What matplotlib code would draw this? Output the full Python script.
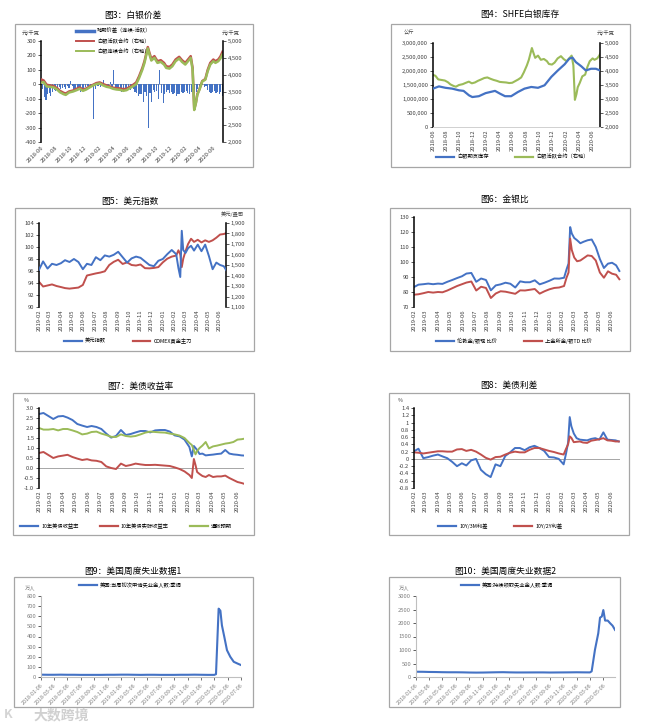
import matplotlib
matplotlib.use("Agg")
import matplotlib.pyplot as plt
import matplotlib.dates as mdates
from matplotlib.lines import Line2D
from matplotlib.patches import Rectangle
from matplotlib.ticker import FuncFormatter, MultipleLocator
import pandas as pd

plt.rcParams["font.family"] = ["Noto Sans CJK SC", "DejaVu Sans"]
plt.rcParams["axes.unicode_minus"] = False

BLUE = "#4472C4"
RED = "#C0504D"
GREEN = "#9BBB59"
GRAY = "#a6a6a6"
TXT = "#404040"

# ---------------- data ----------------
# Fig 3 / Fig 4: silver price (yuan/kg)
silver_dates = [
    "2018-06-01", "2018-06-12", "2018-06-25", "2018-07-10", "2018-07-25", "2018-08-08", "2018-08-20", "2018-09-05", "2018-09-14", "2018-09-28",
    "2018-10-15", "2018-10-30", "2018-11-12", "2018-11-26", "2018-12-10", "2018-12-24", "2019-01-08", "2019-01-22", "2019-02-05", "2019-02-20",
    "2019-03-06", "2019-03-20", "2019-04-03", "2019-04-17", "2019-05-02", "2019-05-16", "2019-05-30", "2019-06-13", "2019-06-27", "2019-07-10",
    "2019-07-22", "2019-08-05", "2019-08-14", "2019-08-28", "2019-09-04", "2019-09-12", "2019-09-25", "2019-10-08", "2019-10-22", "2019-11-05",
    "2019-11-14", "2019-11-28", "2019-12-10", "2019-12-24", "2020-01-08", "2020-01-20", "2020-02-03", "2020-02-17", "2020-02-26", "2020-03-05",
    "2020-03-12", "2020-03-19", "2020-03-25", "2020-04-03", "2020-04-15", "2020-04-28", "2020-05-08", "2020-05-19", "2020-06-01", "2020-06-10",
    "2020-06-22", "2020-07-01", "2020-07-10"]
silver_cont = [
    3760, 3780, 3650, 3640, 3620, 3560, 3480, 3420, 3400, 3470,
    3500, 3540, 3580, 3520, 3560, 3620, 3680, 3720, 3740, 3680,
    3640, 3620, 3580, 3560, 3550, 3520, 3540, 3600, 3660, 3720,
    3900, 4150, 4350, 4780, 4600, 4420, 4500, 4350, 4380, 4300,
    4200, 4180, 4250, 4400, 4480, 4380, 4300, 4420, 4500, 4150,
    2950, 3150, 3400, 3550, 3800, 3850, 4100, 4300, 4400, 4350,
    4400, 4480, 4600]
silver_active = [
    3860, 3830, 3700, 3680, 3660, 3600, 3520, 3460, 3440, 3500,
    3530, 3580, 3620, 3560, 3590, 3650, 3700, 3750, 3770, 3720,
    3680, 3650, 3610, 3600, 3590, 3570, 3580, 3640, 3700, 3770,
    3950, 4200, 4400, 4820, 4650, 4470, 4550, 4400, 4430, 4350,
    4250, 4230, 4300, 4450, 4530, 4430, 4350, 4470, 4550, 4200,
    2970, 3170, 3420, 3570, 3810, 3870, 4140, 4350, 4450, 4400,
    4450, 4540, 4680]
# weekly calendar spread (continuous - active), yuan/kg, from 2018-06-01
spread = [
    10, -30, -90, -110, -70, -60, -80, -50, -40, -45,
    -30, -20, -35, -25, -20, -30, -15, -25, 20, -10,
    -30, -40, -45, -35, -50, -30, -25, -20, -15, -30,
    -10, -20, -240, -30, -10, -15, -20, 10, 30, -10,
    -20, -25, 15, -30, 100, -30, -40, -35, -40, -50,
    -30, -45, -35, -30, -40, -25, -35, -50, -60, -80,
    -70, -65, -120, -50, -80, -300, -60, -120, -40, -50,
    -45, -100, 100, -60, -130, -70, -50, -40, -60, -55,
    -70, -60, -80, -70, -65, -50, -60, -55, -45, -60,
    -70, -50, -40, -60, -50, -30, -15, -10, -5, -20,
    -10, -40, -55, -60, -50, -45, -60, -55, -65, -50,
    -80]
inv_dates = [
    "2018-06-01", "2018-06-28", "2018-07-28", "2018-08-28", "2018-09-28", "2018-10-19", "2018-11-13", "2018-11-28", "2018-12-28", "2019-01-28",
    "2019-03-12", "2019-04-04", "2019-04-27", "2019-05-25", "2019-06-25", "2019-07-25", "2019-08-25", "2019-09-25", "2019-10-25", "2019-11-25",
    "2019-12-25", "2020-01-25", "2020-02-15", "2020-03-01", "2020-03-16", "2020-04-10", "2020-05-01", "2020-05-25", "2020-06-16", "2020-07-05"]
inventory = [
    1370000, 1450000, 1400000, 1370000, 1310000, 1290000, 1130000, 1070000, 1100000, 1210000,
    1290000, 1190000, 1100000, 1100000, 1250000, 1370000, 1430000, 1400000, 1490000, 1790000,
    2020000, 2240000, 2440000, 2480000, 2320000, 2170000, 2020000, 2080000, 2080000, 2020000]

# Fig 5 - Fig 8 share one date list
macro_dates = [
    "2019-02-01", "2019-02-12", "2019-02-24", "2019-03-08", "2019-03-20", "2019-04-01", "2019-04-12", "2019-04-24", "2019-05-06", "2019-05-18",
    "2019-05-30", "2019-06-10", "2019-06-22", "2019-07-04", "2019-07-16", "2019-07-28", "2019-08-09", "2019-08-21", "2019-09-02", "2019-09-14",
    "2019-09-26", "2019-10-08", "2019-10-20", "2019-11-01", "2019-11-13", "2019-11-25", "2019-12-07", "2019-12-19", "2019-12-31", "2020-01-12",
    "2020-01-24", "2020-02-05", "2020-02-11", "2020-02-16", "2020-02-20", "2020-02-24", "2020-03-01", "2020-03-08", "2020-03-16", "2020-03-24",
    "2020-04-03", "2020-04-13", "2020-04-23", "2020-05-03", "2020-05-13", "2020-05-23", "2020-06-02", "2020-06-12", "2020-06-20"]
dxy = [
    96.2, 97.6, 96.4, 97.2, 97.0, 97.3, 97.8, 97.5, 98.0, 97.5,
    96.3, 97.2, 97.0, 98.3, 97.8, 98.6, 98.4, 98.7, 99.2, 98.3,
    97.4, 98.1, 98.4, 98.2, 97.6, 97.0, 96.8, 97.7, 98.0, 98.8,
    99.5, 98.8, 96.5, 95.0, 102.7, 99.5, 99.0, 99.8, 100.2, 99.4,
    100.4, 99.3, 100.4, 98.5, 96.3, 97.4, 97.0, 96.8, 96.0]
comex_gold = [
    1340, 1295, 1305, 1315, 1300, 1290, 1280, 1275, 1280, 1285,
    1310, 1400, 1410, 1420, 1428, 1440, 1500, 1530, 1550, 1510,
    1525, 1500, 1495, 1505, 1470, 1468, 1472, 1480, 1525, 1560,
    1580, 1590, 1640, 1600, 1480, 1560, 1630, 1700, 1750, 1720,
    1740, 1715, 1735, 1720, 1735, 1760, 1790, 1795, 1805]
ratio_london = [
    83.3, 84.9, 85.2, 85.6, 85.2, 85.6, 85.4, 86.8, 88.0, 89.3,
    90.5, 92.3, 92.7, 86.8, 89.0, 88.0, 81.1, 84.4, 85.1, 86.2,
    85.5, 83.0, 87.1, 86.5, 86.5, 87.8, 85.1, 86.2, 87.5, 89.0,
    88.9, 89.5, 95.0, 99.0, 123.3, 119.0, 116.0, 114.5, 112.5, 113.5,
    114.5, 115.0, 110.0, 102.0, 96.0, 98.9, 99.5, 97.8, 94.0]
ratio_sge = [
    78.2, 78.5, 79.2, 80.0, 79.6, 80.0, 79.8, 81.0, 82.5, 84.0,
    85.2, 86.3, 87.0, 81.0, 83.5, 82.7, 76.0, 79.0, 80.5, 80.2,
    79.5, 78.8, 81.1, 81.0, 81.5, 82.0, 78.9, 80.5, 81.8, 82.7,
    83.0, 84.0, 89.5, 93.0, 115.6, 108.0, 103.0, 100.5, 101.0, 102.5,
    104.4, 104.0, 101.0, 93.0, 89.5, 93.8, 92.2, 91.5, 88.5]
ust10y = [
    2.70, 2.75, 2.60, 2.45, 2.58, 2.60, 2.52, 2.40, 2.20, 2.12,
    2.05, 2.10, 2.05, 1.95, 1.72, 1.52, 1.60, 1.90, 1.65, 1.70,
    1.78, 1.85, 1.85, 1.78, 1.88, 1.90, 1.90, 1.82, 1.63, 1.58,
    1.42, 1.05, 0.58, 1.10, 1.00, 0.90, 0.70, 0.72, 0.63, 0.65,
    0.67, 0.70, 0.72, 0.90, 0.72, 0.68, 0.66, 0.63, 0.62]
real10y = [
    0.75, 0.80, 0.65, 0.50, 0.58, 0.62, 0.66, 0.55, 0.47, 0.40,
    0.44, 0.38, 0.36, 0.30, 0.08, 0.00, -0.05, 0.22, 0.10, 0.15,
    0.22, 0.18, 0.15, 0.15, 0.16, 0.14, 0.12, 0.10, 0.03, -0.05,
    -0.17, -0.35, -0.50, 0.45, 0.15, -0.20, -0.30, -0.40, -0.45, -0.35,
    -0.45, -0.42, -0.42, -0.38, -0.50, -0.60, -0.70, -0.75, -0.80]
breakeven = [
    2.00, 1.92, 1.92, 1.95, 1.88, 1.95, 1.95, 1.88, 1.80, 1.68,
    1.72, 1.80, 1.82, 1.72, 1.65, 1.56, 1.55, 1.68, 1.60, 1.57,
    1.60, 1.68, 1.77, 1.82, 1.80, 1.78, 1.77, 1.72, 1.68, 1.62,
    1.50, 1.25, 1.15, 0.90, 0.68, 0.85, 1.00, 1.12, 1.30, 0.98,
    1.08, 1.12, 1.17, 1.22, 1.25, 1.30, 1.42, 1.44, 1.47]
spread_10y3m = [
    0.21, 0.28, 0.02, 0.05, 0.09, 0.12, 0.07, 0.02, -0.08, -0.20,
    -0.12, -0.18, -0.04, 0.00, -0.30, -0.42, -0.50, -0.15, -0.20, 0.08,
    0.18, 0.30, 0.30, 0.24, 0.32, 0.36, 0.30, 0.22, 0.05, 0.04,
    0.00, -0.15, 0.15, 0.45, 1.15, 0.90, 0.70, 0.57, 0.53, 0.52,
    0.51, 0.55, 0.57, 0.53, 0.73, 0.53, 0.52, 0.51, 0.48]
spread_10y2y = [
    0.18, 0.17, 0.15, 0.17, 0.19, 0.21, 0.21, 0.20, 0.20, 0.26,
    0.27, 0.22, 0.25, 0.20, 0.12, 0.03, -0.02, 0.05, 0.06, 0.12,
    0.17, 0.20, 0.18, 0.18, 0.25, 0.30, 0.30, 0.26, 0.22, 0.19,
    0.15, 0.12, 0.28, 0.40, 0.62, 0.58, 0.46, 0.47, 0.48, 0.45,
    0.44, 0.50, 0.52, 0.54, 0.57, 0.51, 0.50, 0.48, 0.48]

# Fig 9 / Fig 10: US weekly jobless claims (10k persons)
claims_flat_dates = pd.date_range("2018-01-01", "2020-03-01", freq="MS") + pd.Timedelta(days=5)
initial_flat = [
    23, 22, 22, 23, 22, 22, 21, 21, 21, 21, 22, 22,
    23, 23, 22, 21, 22, 22, 21, 21, 21, 22, 22, 23,
    22, 21, 21]
initial_surge_dates = ["2020-03-14", "2020-03-26", "2020-04-03", "2020-04-10", "2020-04-21",
                       "2020-05-03", "2020-05-18", "2020-06-03", "2020-06-21", "2020-07-06"]
initial_surge = [28, 675, 655, 510, 395, 265, 200, 150, 132, 118]
continuing_flat = [
    195, 193, 187, 184, 178, 175, 175, 172, 166, 163, 165, 170,
    175, 178, 172, 168, 168, 169, 170, 170, 166, 168, 170, 172,
    175, 172, 170]
continuing_surge_dates = ["2020-03-14", "2020-03-29", "2020-04-13", "2020-04-21", "2020-04-29", "2020-05-06",
                          "2020-05-14", "2020-05-26", "2020-06-06", "2020-06-17", "2020-06-28"]
continuing_surge = [210, 1010, 1620, 2200, 2240, 2480, 2090, 2090, 1990, 1900, 1745]

# ---------------- layout helpers (pixel coords) ----------------
W, H = 664, 724
fig = plt.figure(figsize=(W / 100, H / 100), dpi=100, facecolor="white")


def fx(x):
    return x / W


def fy(y):
    return 1 - y / H


def box(x0, y0, x1, y1):
    fig.patches.append(Rectangle((fx(x0), fy(y1)), (x1 - x0) / W, (y1 - y0) / H,
                                 transform=fig.transFigure, fill=False, ec=GRAY, lw=0.9))


def panel_ax(x0, y0, x1, y1):
    return fig.add_axes([fx(x0), fy(y1), (x1 - x0) / W, (y1 - y0) / H])


def title(x, y, s):
    fig.text(fx(x), fy(y), s, ha="center", va="center", fontsize=6.3, color="black")


def note(x, y, s, size=3.8, color=TXT):
    fig.text(fx(x), fy(y), s, ha="center", va="center", fontsize=size, color=color)


def frame(ax, sides, color="black", lw=1.1):
    for side in ["top", "right", "left", "bottom"]:
        ax.spines[side].set_visible(side in sides)
        ax.spines[side].set_color(color)
        ax.spines[side].set_linewidth(lw)
    ax.tick_params(labelsize=4.2, colors=TXT, length=2, width=0.6, pad=1.5)
    ax.tick_params(axis="x", length=0, pad=2)
    ax.set_facecolor("none")


def legend_at(ax, items, x, y, ncol=1, loc="center", spacing=0.3, colsp=4.0):
    handles = [Line2D([], [], color=c, lw=lw) for c, _, lw in items]
    labels = [t for _, t, _ in items]
    ax.legend(handles, labels, loc=loc, bbox_to_anchor=(fx(x), fy(y)), bbox_transform=fig.transFigure,
              ncol=ncol, frameon=False, fontsize=3.8, handlelength=3.4, handletextpad=0.6,
              columnspacing=colsp, labelspacing=spacing, borderaxespad=0, borderpad=0)


def date_x(ax, start, end, locator, fmt, rot):
    ax.set_xlim(pd.Timestamp(start), pd.Timestamp(end))
    ax.xaxis.set_major_locator(locator)
    ax.xaxis.set_major_formatter(mdates.DateFormatter(fmt))
    for lab in ax.get_xticklabels():
        lab.set_rotation(rot)
        if rot == 45:
            lab.set_ha("right")
            lab.set_rotation_mode("anchor")


comma = FuncFormatter(lambda v, _: f"{v:,.0f}")

# ---------------- Fig 3 ----------------
box(15, 24, 253, 167)
title(133, 15, "图3：白银价差")
ax = panel_ax(41, 41, 223, 142)
frame(ax, ["left"])
spread_dates = pd.date_range("2018-06-01", periods=len(spread), freq="7D")
ax.bar(spread_dates, spread, width=5, color=BLUE, linewidth=0, zorder=2)
ax.axhline(0, color=GRAY, lw=0.7, zorder=1)
ax.set_ylim(-400, 300)
ax.yaxis.set_major_locator(MultipleLocator(100))
date_x(ax, "2018-06-01", "2020-07-12", mdates.MonthLocator(bymonth=range(2, 13, 2)), "%Y-%m", 45)
axr = ax.twinx()
frame(axr, ["right"])
axr.plot(pd.to_datetime(silver_dates), silver_active, color=RED, lw=1.8)
axr.plot(pd.to_datetime(silver_dates), silver_cont, color=GREEN, lw=1.8)
axr.set_ylim(2000, 5000)
axr.yaxis.set_major_locator(MultipleLocator(500))
axr.yaxis.set_major_formatter(comma)
legend_at(axr, [(BLUE, "跨期价差（连续-活跃）", 2.5), (RED, "白银活跃合约（右轴）", 1.4),
                (GREEN, "白银连续合约（右轴）", 1.4)], 76, 28, loc="upper left", spacing=0.9)
note(31, 33, "元/千克")
note(231, 33, "元/千克")

# ---------------- Fig 4 ----------------
box(391, 24, 630, 167)
title(520, 14, "图4：SHFE白银库存")
ax = panel_ax(433, 43, 600, 127)
frame(ax, ["left"])
ax.spines["bottom"].set_visible(True)
ax.spines["bottom"].set_color("#d0d0d0")
ax.spines["bottom"].set_linewidth(0.7)
ax.plot(pd.to_datetime(inv_dates), inventory, color=BLUE, lw=1.6, zorder=3)
ax.set_ylim(0, 3000000)
ax.yaxis.set_major_locator(MultipleLocator(500000))
ax.yaxis.set_major_formatter(comma)
date_x(ax, "2018-06-01", "2020-07-05", mdates.MonthLocator(bymonth=range(2, 13, 2)), "%Y-%m", 90)
axr = ax.twinx()
frame(axr, ["right"])
axr.plot(pd.to_datetime(silver_dates), silver_active, color=GREEN, lw=1.5)
axr.set_ylim(2000, 5000)
axr.yaxis.set_major_locator(MultipleLocator(500))
axr.yaxis.set_major_formatter(comma)
ax.set_zorder(axr.get_zorder() + 1)
legend_at(ax, [(BLUE, "白银期货库存", 1.6), (GREEN, "白银活跃合约（右轴）", 1.6)], 512, 157, ncol=2, colsp=5)
note(409, 33, "公斤")
note(606, 33, "元/千克")

# ---------------- Fig 5 ----------------
mdt = pd.to_datetime(macro_dates)
box(15, 208, 254, 351)
title(130, 201, "图5：美元指数")
ax = panel_ax(39, 223, 226, 307)
frame(ax, ["left"])
ax.plot(mdt, dxy, color=BLUE, lw=1.4, zorder=3)
ax.set_ylim(90, 104)
ax.yaxis.set_major_locator(MultipleLocator(2))
date_x(ax, "2019-02-01", "2020-06-18", mdates.MonthLocator(), "%Y-%m", 90)
axr = ax.twinx()
frame(axr, ["right"])
axr.plot(mdt, comex_gold, color=RED, lw=1.4)
axr.set_ylim(1100, 1900)
axr.yaxis.set_major_locator(MultipleLocator(100))
axr.yaxis.set_major_formatter(comma)
ax.set_zorder(axr.get_zorder() + 1)
legend_at(ax, [(BLUE, "美元指数", 1.6), (RED, "COMEX黄金主力", 1.6)], 128, 341, ncol=2, colsp=5)
note(232, 214, "美元/盎司")

# ---------------- Fig 6 ----------------
box(390, 208, 630, 351)
title(505, 199, "图6：金银比")
ax = panel_ax(414, 217, 621, 307)
frame(ax, ["left"])
ax.plot(mdt, ratio_london, color=BLUE, lw=1.4)
ax.plot(mdt, ratio_sge, color=RED, lw=1.4)
ax.set_ylim(70, 130)
ax.yaxis.set_major_locator(MultipleLocator(10))
date_x(ax, "2019-02-01", "2020-06-24", mdates.MonthLocator(), "%Y-%m", 90)
legend_at(ax, [(BLUE, "伦敦金/银现 比价", 1.6), (RED, "上金所金/银TD 比价", 1.6)], 514, 341, ncol=2, colsp=5)

# ---------------- Fig 7 ----------------
box(13, 393, 254, 535)
title(140, 386, "图7：美债收益率")
ax = panel_ax(39, 408, 244, 488)
frame(ax, ["left"])
ax.axhline(0, color=GRAY, lw=0.7, zorder=1)
ax.plot(mdt, ust10y, color=BLUE, lw=1.4)
ax.plot(mdt, real10y, color=RED, lw=1.4)
ax.plot(mdt, breakeven, color=GREEN, lw=1.4)
ax.set_ylim(-1.0, 3.0)
ax.yaxis.set_major_locator(MultipleLocator(0.5))
ax.yaxis.set_major_formatter(FuncFormatter(lambda v, _: f"{round(v, 1) + 0.0:.1f}"))
date_x(ax, "2019-02-01", "2020-06-18", mdates.MonthLocator(), "%Y-%m", 90)
legend_at(ax, [(BLUE, "10年美债收益率", 1.6), (RED, "10年美债实际收益率", 1.6), (GREEN, "通胀预期", 1.6)],
          126, 526, ncol=3, colsp=4)
note(26, 400, "%")

# ---------------- Fig 8 ----------------
box(389, 393, 629, 535)
title(509, 385, "图8：美债利差")
ax = panel_ax(414, 408, 620, 488)
frame(ax, ["left"])
ax.axhline(0, color=GRAY, lw=0.7, zorder=1)
ax.plot(mdt, spread_10y3m, color=BLUE, lw=1.4)
ax.plot(mdt, spread_10y2y, color=RED, lw=1.4)
ax.set_ylim(-0.8, 1.4)
ax.yaxis.set_major_locator(MultipleLocator(0.2))
ax.yaxis.set_major_formatter(FuncFormatter(lambda v, _: f"{round(v, 1) + 0.0:g}"))
date_x(ax, "2019-02-01", "2020-06-23", mdates.MonthLocator(), "%Y-%m", 90)
legend_at(ax, [(BLUE, "10Y/3M利差", 1.6), (RED, "10Y/2Y利差", 1.6)], 500, 526, ncol=2, colsp=5)
note(400, 400, "%")

# ---------------- Fig 9 / Fig 10 ----------------
def claims_panel(bx, ax_rect, ttl, ttl_xy, dates, values, ymax, ystep, end, tick_end, lab, leg_xy, unit_xy):
    box(*bx)
    title(*ttl_xy, ttl)
    ax = panel_ax(*ax_rect)
    frame(ax, ["left", "bottom"], color="#bfbfbf", lw=0.8)
    ax.tick_params(axis="x", length=2, colors="#595959")
    ax.plot(dates, values, color=BLUE, lw=1.5)
    ax.set_ylim(0, ymax)
    ax.yaxis.set_major_locator(MultipleLocator(ystep))
    ticks = pd.date_range("2018-01-01", tick_end, freq="2MS") + pd.Timedelta(days=5)
    ax.set_xlim(pd.Timestamp("2018-01-06"), pd.Timestamp(end))
    ax.set_xticks(ticks)
    ax.set_xticklabels([t.strftime("%Y-%m-%d") for t in ticks], rotation=45, ha="right",
                       rotation_mode="anchor", fontsize=3.9, color="#7f7f7f")
    for t in ax.get_yticklabels():
        t.set_color("#7f7f7f")
    legend_at(ax, [(BLUE, lab, 1.6)], *leg_xy, loc="center left")
    note(*unit_xy, "万人", color="#7f7f7f")


claims_panel((14, 577, 253, 707), (41, 596, 241, 677), "图9：美国周度失业数据1", (133, 571),
             list(claims_flat_dates) + list(pd.to_datetime(initial_surge_dates)), initial_flat + initial_surge,
             800, 100, "2020-07-06", "2020-07-01", "美国:当周初次申请失业金人数:季调", (79, 585), (30, 589))
claims_panel((389, 577, 620, 707), (416, 596, 615, 677), "图10：美国周度失业数据2", (505, 571),
             list(claims_flat_dates) + list(pd.to_datetime(continuing_surge_dates)), continuing_flat + continuing_surge,
             3000, 500, "2020-06-28", "2020-05-01", "美国:持续领取失业金人数:季调", (461, 585), (404, 589))

# watermark
fig.text(fx(4), fy(715), "K", fontsize=9, color="#d4d4d4", ha="left", va="center", fontweight="bold")
fig.text(fx(33), fy(715), "大数跨境", fontsize=10, color="#d0d0d0", ha="left", va="center", fontweight="bold")

fig.savefig("out.png", dpi=100, facecolor="white")
